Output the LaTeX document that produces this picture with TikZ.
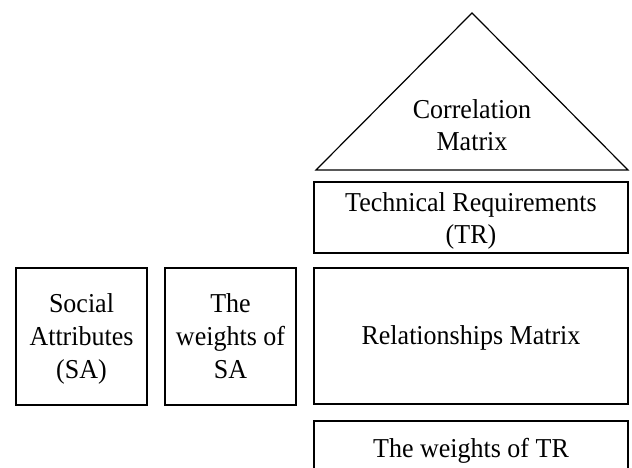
\documentclass[tikz,border=0pt]{standalone}
\usepackage{graphicx}
\usepackage{fontspec}
\setmainfont{Liberation Serif}
\newcommand{\vstr}[1]{\scalebox{1}[1.05]{\fontsize{26}{31}\selectfont\begin{tabular}{@{}c@{}}#1\end{tabular}}}
\begin{document}
\begin{tikzpicture}[x=1pt,y=-1pt,line width=1.2pt,
  blk/.style={draw=black,rectangle,inner sep=0pt},
  lbl/.style={inner sep=0pt}]
\useasboundingbox (0,0) rectangle (632,468);
% triangle
\coordinate (tl) at (316,170);
\coordinate (tt) at (472,13);
\coordinate (tri) at (628,170);
\draw[line join=miter] (tl) -- (tt) -- (tri) -- cycle;
\node[lbl] (cm) at (472,128) {\vstr{Correlation\\Matrix}};
% boxes
\node[blk,minimum width=314,minimum height=71] (tr) at (471,217.5) {};
\node[lbl] (trl) at (471,220.8) {\vstr{Technical Requirements\\(TR)}};
\node[blk,minimum width=314,minimum height=136] (rm) at (471,336) {};
\node[lbl] (rml) at (471,337.5) {\vstr{Relationships Matrix}};
\node[blk,minimum width=314,minimum height=53] (wtr) at (471,447.5) {};
\node[lbl] (wtrl) at (471,450.5) {\vstr{The weights of TR}};
\node[blk,minimum width=131,minimum height=137] (sa) at (81.5,336.5) {};
\node[lbl] (sal) at (81.5,339) {\vstr{Social\\Attributes\\(SA)}};
\node[blk,minimum width=131,minimum height=137] (wsa) at (230.5,336.5) {};
\node[lbl] (wsal) at (230.5,339) {\vstr{The\\weights of\\SA}};
\end{tikzpicture}
\end{document}
